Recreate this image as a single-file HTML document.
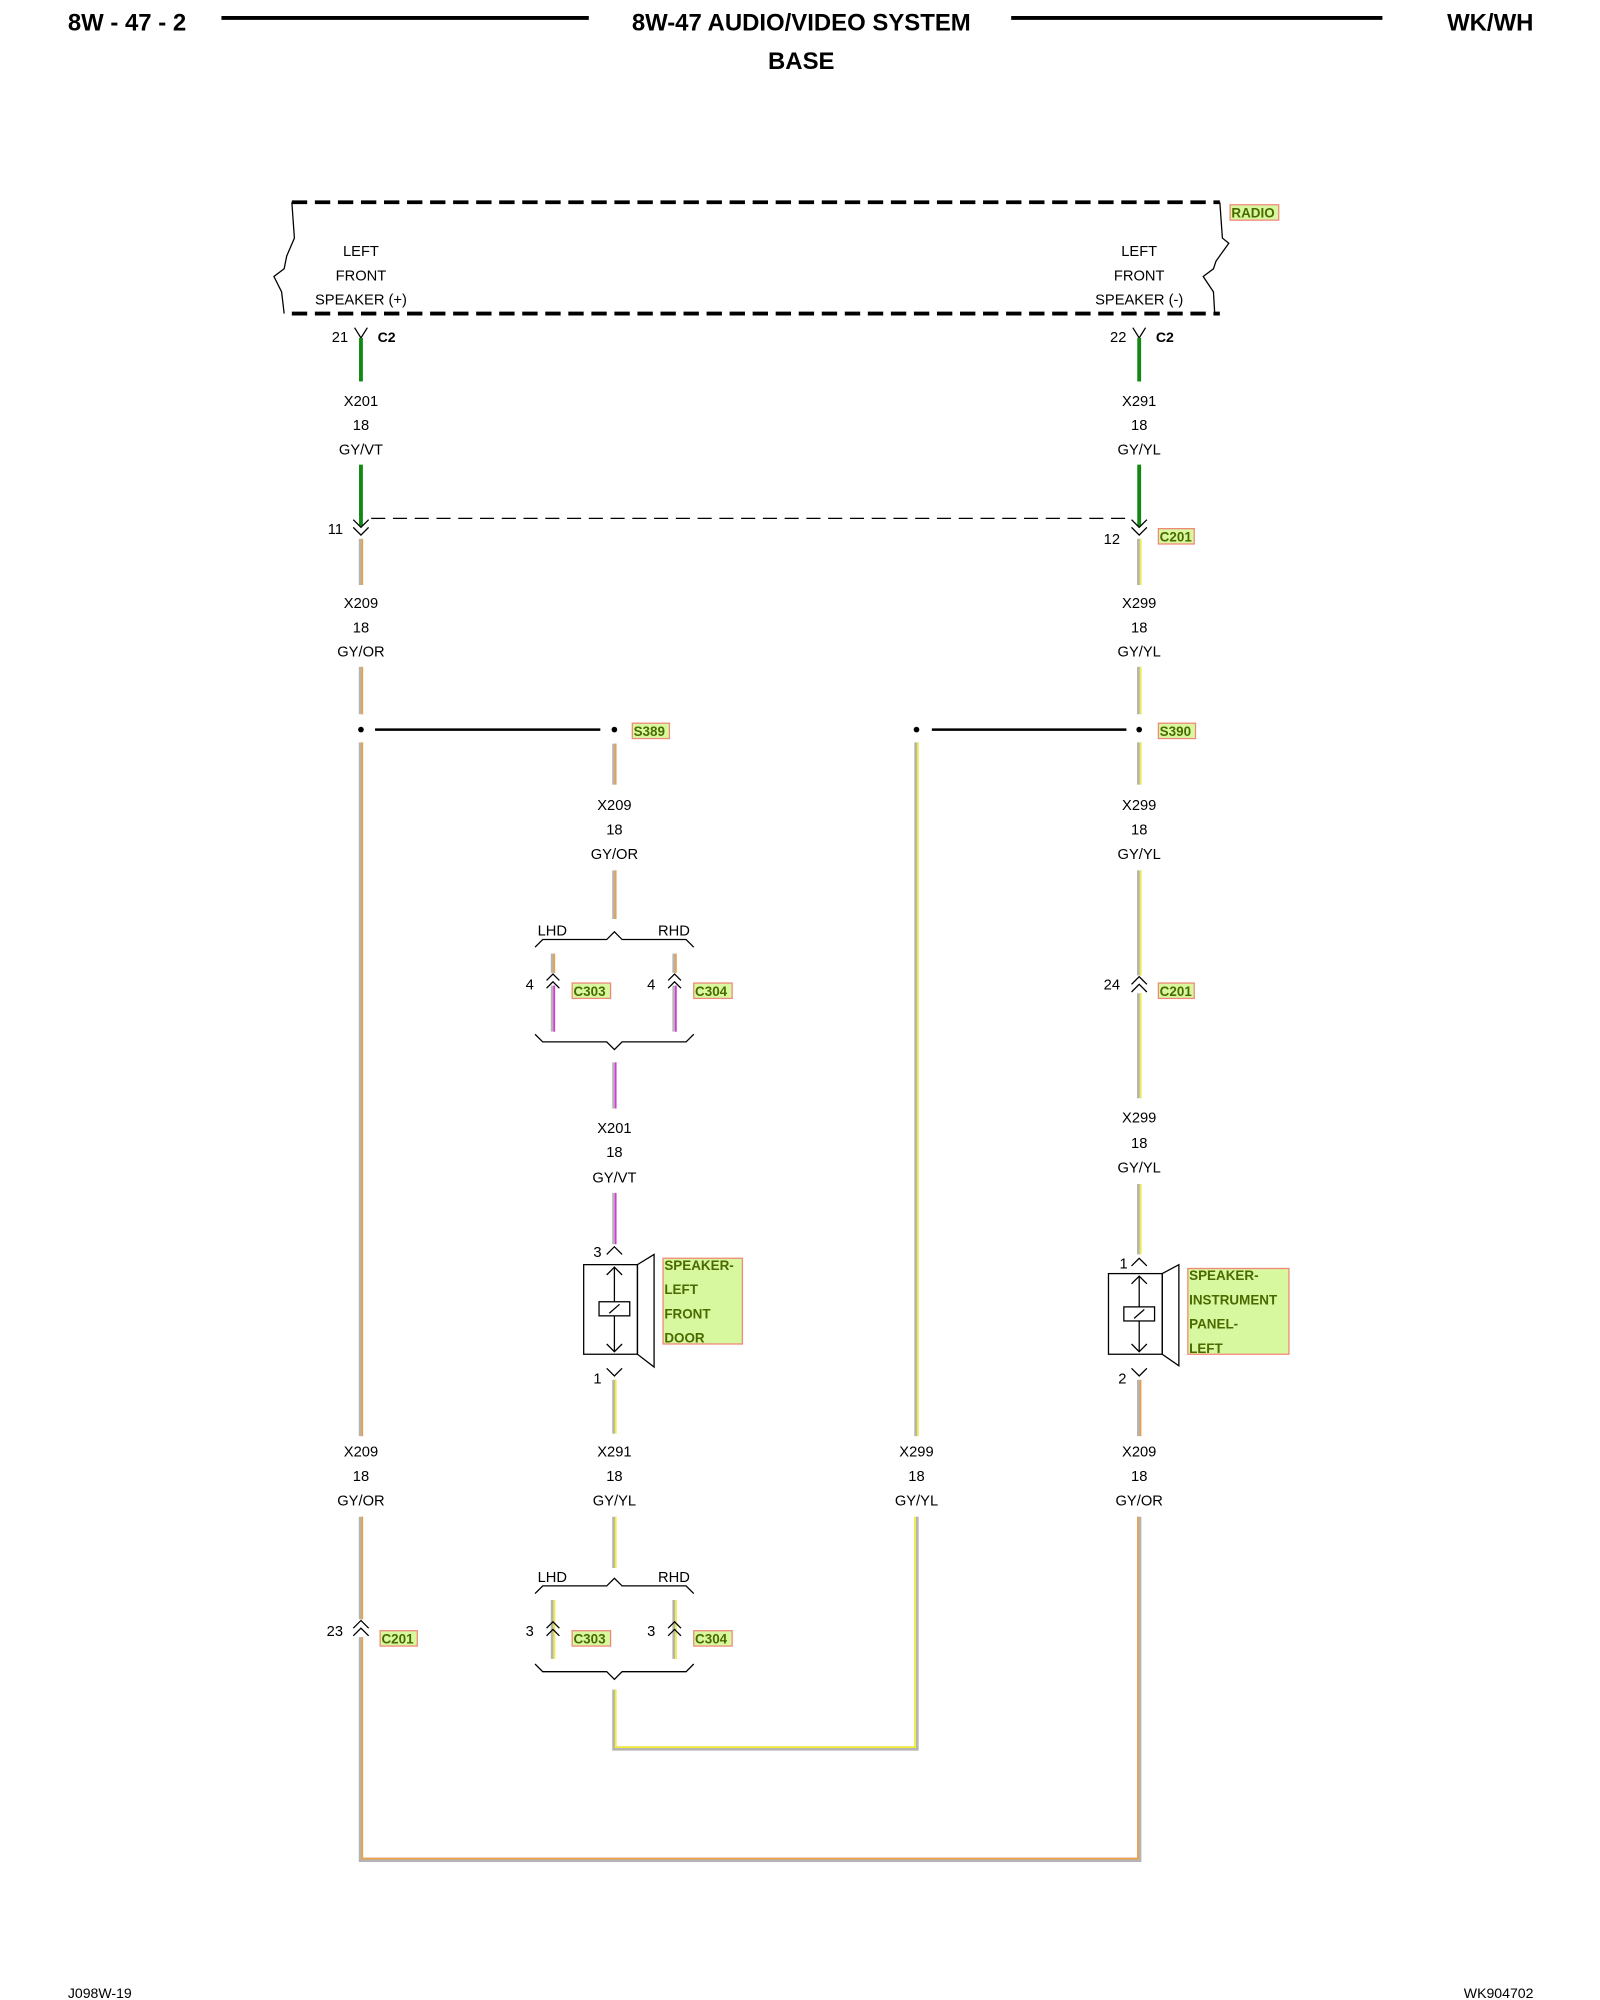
<!DOCTYPE html>
<html><head><meta charset="utf-8"><style>
html,body{margin:0;padding:0;background:#fff;}
svg{display:block;}
text{font-family:"Liberation Sans",Arial,sans-serif;fill:#000;}
.t{font-size:11.5px;text-anchor:middle;}
.n{font-size:11.5px;text-anchor:end;}
.h{font-size:18.7px;font-weight:bold;}
.lb{font-size:10.5px;font-weight:bold;fill:#4a6a00;}
.box{fill:#d8f8a0;stroke:#f08878;stroke-width:1;}
.g{stroke:#b4b4b4;stroke-width:3.4;fill:none;}
.ow{stroke:#f0a040;stroke-width:1.3;fill:none;}
.yw{stroke:#f4f030;stroke-width:1.3;fill:none;}
.mw{stroke:#e030e0;stroke-width:1.3;fill:none;}
.gr{stroke:#118811;stroke-width:3;fill:none;}
.k{stroke:#000;stroke-width:1;fill:none;}
</style></head><body>
<svg width="1600" height="2000" viewBox="0 0 1250 1562.5" xmlns="http://www.w3.org/2000/svg">
<!-- header -->
<text x="53" y="24" class="h">8W - 47 - 2</text>
<line x1="173" y1="14" x2="460" y2="14" stroke="#000" stroke-width="3"/>
<text x="626" y="24" class="h" text-anchor="middle">8W-47 AUDIO/VIDEO SYSTEM</text>
<text x="626" y="54" class="h" text-anchor="middle">BASE</text>
<line x1="790" y1="14" x2="1080" y2="14" stroke="#000" stroke-width="3"/>
<text x="1198" y="24" class="h" text-anchor="end">WK/WH</text>
<text x="53" y="1561" font-size="11">J098W-19</text>
<text x="1198" y="1561" font-size="11" text-anchor="end">WK904702</text>

<!-- radio box -->
<line x1="228" y1="158" x2="953" y2="158" stroke="#000" stroke-width="3" stroke-dasharray="12,6"/>
<line x1="228" y1="245" x2="953" y2="245" stroke="#000" stroke-width="3" stroke-dasharray="12,6"/>
<polyline class="k" points="228,158 230,186 224,200 222,210 214,216 220,228 222,245"/>
<polyline class="k" points="953,158 955,186 960,190 950,204 948,210 940,216 948,228 949,245"/>
<rect x="961" y="160" width="38" height="12" class="box"/>
<text x="962" y="170" class="lb">RADIO</text>
<text x="282" y="200" class="t">LEFT</text>
<text x="282" y="219" class="t">FRONT</text>
<text x="282" y="238" class="t">SPEAKER (+)</text>
<text x="890" y="200" class="t">LEFT</text>
<text x="890" y="219" class="t">FRONT</text>
<text x="890" y="238" class="t">SPEAKER (-)</text>

<!-- pins C2 -->
<text x="272" y="267" class="n">21</text>
<polyline class="k" points="277,256 282,264 287,256"/>
<text x="295" y="267" font-size="11" font-weight="bold">C2</text>
<text x="880" y="267" class="n">22</text>
<polyline class="k" points="885,256 890,264 895,256"/>
<text x="903" y="267" font-size="11" font-weight="bold">C2</text>
<line x1="282" y1="264" x2="282" y2="298" class="gr"/>
<line x1="890" y1="264" x2="890" y2="298" class="gr"/>
<text x="282" y="317" class="t">X201</text><text x="282" y="336" class="t">18</text><text x="282" y="355" class="t">GY/VT</text>
<text x="890" y="317" class="t">X291</text><text x="890" y="336" class="t">18</text><text x="890" y="355" class="t">GY/YL</text>
<line x1="282" y1="363" x2="282" y2="411" class="gr"/>
<line x1="890" y1="363" x2="890" y2="411" class="gr"/>
<!-- C201 11/12 -->
<polyline class="k" points="276,406 282,412 288,406"/><polyline class="k" points="276,412 282,418 288,412"/>
<polyline class="k" points="884,406 890,412 896,406"/><polyline class="k" points="884,412 890,418 896,412"/>
<line x1="290" y1="405" x2="880" y2="405" stroke="#000" stroke-width="1" stroke-dasharray="11,6"/>
<text x="268" y="417" class="n">11</text>
<text x="875" y="425" class="n">12</text>
<rect x="905" y="413" width="28" height="12" class="box"/><text x="906" y="423" class="lb">C201</text>

<!-- wires segments -->
<g>
<line x1="282" y1="421" x2="282" y2="457" class="g"/><line x1="283" y1="421" x2="283" y2="457" class="ow"/>
<line x1="890" y1="421" x2="890" y2="457" class="g"/><line x1="891" y1="421" x2="891" y2="457" class="yw"/>
<line x1="282" y1="521" x2="282" y2="558" class="g"/><line x1="283" y1="521" x2="283" y2="558" class="ow"/>
<line x1="890" y1="521" x2="890" y2="558" class="g"/><line x1="891" y1="521" x2="891" y2="558" class="yw"/>
<line x1="282" y1="580" x2="282" y2="1122" class="g"/><line x1="283" y1="580" x2="283" y2="1122" class="ow"/>
<line x1="282" y1="1185" x2="282" y2="1265" class="g"/><line x1="283" y1="1185" x2="283" y2="1265" class="ow"/>
<polyline points="282,1279 282,1453 890,1453 890,1185" class="g"/><polyline points="283,1279 283,1452 889,1452 889,1185" class="ow"/>
<line x1="480" y1="581" x2="480" y2="613" class="g"/><line x1="481" y1="581" x2="481" y2="613" class="ow"/>
<line x1="480" y1="680" x2="480" y2="718" class="g"/><line x1="481" y1="680" x2="481" y2="718" class="ow"/>
<line x1="432" y1="745" x2="432" y2="760" class="g"/><line x1="433" y1="745" x2="433" y2="760" class="ow"/>
<line x1="527" y1="745" x2="527" y2="760" class="g"/><line x1="528" y1="745" x2="528" y2="760" class="ow"/>
<line x1="432" y1="770" x2="432" y2="806" class="g"/><line x1="433" y1="770" x2="433" y2="806" class="mw"/>
<line x1="527" y1="770" x2="527" y2="806" class="g"/><line x1="528" y1="770" x2="528" y2="806" class="mw"/>
<line x1="480" y1="830" x2="480" y2="866" class="g"/><line x1="481" y1="830" x2="481" y2="866" class="mw"/>
<line x1="480" y1="932" x2="480" y2="972" class="g"/><line x1="481" y1="932" x2="481" y2="972" class="mw"/>
<line x1="480" y1="1078" x2="480" y2="1120" class="g"/><line x1="481" y1="1078" x2="481" y2="1120" class="yw"/>
<line x1="480" y1="1185" x2="480" y2="1225" class="g"/><line x1="481" y1="1185" x2="481" y2="1225" class="yw"/>
<line x1="432" y1="1250" x2="432" y2="1296" class="g"/><line x1="433" y1="1250" x2="433" y2="1296" class="yw"/>
<line x1="527" y1="1250" x2="527" y2="1296" class="g"/><line x1="528" y1="1250" x2="528" y2="1296" class="yw"/>
<polyline points="480,1320 480,1366 716,1366 716,1185" class="g"/><polyline points="481,1320 481,1365 715,1365 715,1185" class="yw"/>
<line x1="716" y1="580" x2="716" y2="1122" class="g"/><line x1="717" y1="580" x2="717" y2="1122" class="yw"/>
<line x1="890" y1="580" x2="890" y2="613" class="g"/><line x1="891" y1="580" x2="891" y2="613" class="yw"/>
<line x1="890" y1="680" x2="890" y2="762" class="g"/><line x1="891" y1="680" x2="891" y2="762" class="yw"/>
<line x1="890" y1="776" x2="890" y2="858" class="g"/><line x1="891" y1="776" x2="891" y2="858" class="yw"/>
<line x1="890" y1="925" x2="890" y2="980" class="g"/><line x1="891" y1="925" x2="891" y2="980" class="yw"/>
<line x1="890" y1="1078" x2="890" y2="1122" class="g"/><line x1="891" y1="1078" x2="891" y2="1122" class="ow"/>
</g>

<!-- labels -->
<text x="282" y="475" class="t">X209</text><text x="282" y="494" class="t">18</text><text x="282" y="513" class="t">GY/OR</text>
<text x="890" y="475" class="t">X299</text><text x="890" y="494" class="t">18</text><text x="890" y="513" class="t">GY/YL</text>
<text x="480" y="633" class="t">X209</text><text x="480" y="652" class="t">18</text><text x="480" y="671" class="t">GY/OR</text>
<text x="890" y="633" class="t">X299</text><text x="890" y="652" class="t">18</text><text x="890" y="671" class="t">GY/YL</text>
<text x="480" y="885" class="t">X201</text><text x="480" y="904" class="t">18</text><text x="480" y="924" class="t">GY/VT</text>
<text x="890" y="877" class="t">X299</text><text x="890" y="897" class="t">18</text><text x="890" y="916" class="t">GY/YL</text>
<text x="282" y="1138" class="t">X209</text><text x="282" y="1157" class="t">18</text><text x="282" y="1176" class="t">GY/OR</text>
<text x="480" y="1138" class="t">X291</text><text x="480" y="1157" class="t">18</text><text x="480" y="1176" class="t">GY/YL</text>
<text x="716" y="1138" class="t">X299</text><text x="716" y="1157" class="t">18</text><text x="716" y="1176" class="t">GY/YL</text>
<text x="890" y="1138" class="t">X209</text><text x="890" y="1157" class="t">18</text><text x="890" y="1176" class="t">GY/OR</text>

<!-- splices -->
<circle cx="282" cy="570" r="2.2"/><circle cx="480" cy="570" r="2.2"/>
<circle cx="716" cy="570" r="2.2"/><circle cx="890" cy="570" r="2.2"/>
<line x1="293" y1="570" x2="469" y2="570" stroke="#000" stroke-width="2"/>
<line x1="728" y1="570" x2="880" y2="570" stroke="#000" stroke-width="2"/>
<rect x="494" y="565" width="29" height="12" class="box"/><text x="495" y="575" class="lb">S389</text>
<rect x="905" y="565" width="29" height="12" class="box"/><text x="906" y="575" class="lb">S390</text>

<!-- braces upper -->
<text x="420" y="731" font-size="11.5">LHD</text><text x="539" y="731" font-size="11.5" text-anchor="end">RHD</text>
<polyline class="k" points="418,740 424,734 474,734 480,728 486,734 536,734 542,740"/>
<polyline class="k" points="418,808 424,814 474,814 480,820 486,814 536,814 542,808"/>
<polyline class="k" points="427,766 432,761 437,766"/><polyline class="k" points="427,772 432,767 437,772"/>
<polyline class="k" points="522,766 527,761 532,766"/><polyline class="k" points="522,772 527,767 532,772"/>
<text x="417" y="773" class="n">4</text><text x="512" y="773" class="n">4</text>
<rect x="447" y="768" width="30" height="12" class="box"/><text x="448" y="778" class="lb">C303</text>
<rect x="542" y="768" width="30" height="12" class="box"/><text x="543" y="778" class="lb">C304</text>
<polyline class="k" points="884,769 890,763 896,769"/><polyline class="k" points="884,775 890,769 896,775"/>
<text x="875" y="773" class="n">24</text>
<rect x="905" y="768" width="28" height="12" class="box"/><text x="906" y="778" class="lb">C201</text>

<!-- braces lower -->
<text x="420" y="1236" font-size="11.5">LHD</text><text x="539" y="1236" font-size="11.5" text-anchor="end">RHD</text>
<polyline class="k" points="418,1245 424,1239 474,1239 480,1233 486,1239 536,1239 542,1245"/>
<polyline class="k" points="418,1300 424,1306 474,1306 480,1312 486,1306 536,1306 542,1300"/>
<polyline class="k" points="427,1272 432,1267 437,1272"/><polyline class="k" points="427,1278 432,1273 437,1278"/>
<polyline class="k" points="522,1272 527,1267 532,1272"/><polyline class="k" points="522,1278 527,1273 532,1278"/>
<text x="417" y="1278" class="n">3</text><text x="512" y="1278" class="n">3</text>
<rect x="447" y="1274" width="30" height="12" class="box"/><text x="448" y="1284" class="lb">C303</text>
<rect x="542" y="1274" width="30" height="12" class="box"/><text x="543" y="1284" class="lb">C304</text>
<polyline class="k" points="276,1272 282,1266 288,1272"/><polyline class="k" points="276,1278 282,1272 288,1278"/>
<text x="268" y="1278" class="n">23</text>
<rect x="297" y="1274" width="29" height="12" class="box"/><text x="298" y="1284" class="lb">C201</text>

<!-- speaker left -->
<polyline class="k" points="474,980 480,974 486,980"/><text x="470" y="982" class="n">3</text>
<rect x="456" y="988" width="42" height="70" class="k"/>
<polygon points="498,988 511,980 511,1068 498,1058" class="k"/>
<line x1="480" y1="990" x2="480" y2="1056" class="k"/>
<polyline class="k" points="474,996 480,990 486,996"/><polyline class="k" points="474,1050 480,1056 486,1050"/>
<rect x="468" y="1017" width="24" height="11" fill="#fff" stroke="#000"/>
<line x1="476" y1="1026" x2="484" y2="1019" class="k"/>
<polyline class="k" points="474,1069 480,1075 486,1069"/><text x="470" y="1081" class="n">1</text>
<rect x="518" y="983" width="62" height="67" class="box"/>
<text class="lb" font-size="11"><tspan x="519" y="992">SPEAKER-</tspan><tspan x="519" y="1011">LEFT</tspan><tspan x="519" y="1030">FRONT</tspan><tspan x="519" y="1049">DOOR</tspan></text>

<!-- speaker right -->
<polyline class="k" points="884,989 890,983 896,989"/><text x="881" y="991" class="n">1</text>
<rect x="866" y="995" width="42" height="63" class="k"/>
<polygon points="908,995 921,988 921,1067 908,1058" class="k"/>
<line x1="890" y1="997" x2="890" y2="1056" class="k"/>
<polyline class="k" points="884,1003 890,997 896,1003"/><polyline class="k" points="884,1050 890,1056 896,1050"/>
<rect x="878" y="1021" width="24" height="11" fill="#fff" stroke="#000"/>
<line x1="886" y1="1030" x2="894" y2="1023" class="k"/>
<polyline class="k" points="884,1069 890,1075 896,1069"/><text x="880" y="1081" class="n">2</text>
<rect x="928" y="991" width="79" height="67" class="box"/>
<text class="lb" font-size="11"><tspan x="929" y="1000">SPEAKER-</tspan><tspan x="929" y="1019">INSTRUMENT</tspan><tspan x="929" y="1038">PANEL-</tspan><tspan x="929" y="1057">LEFT</tspan></text>
</svg>
</body></html>
